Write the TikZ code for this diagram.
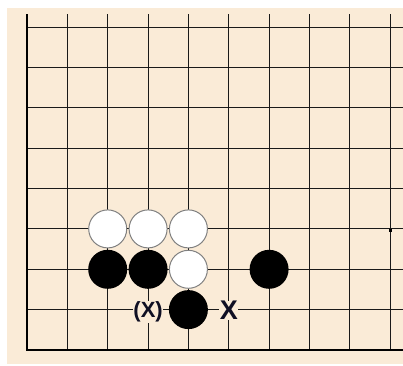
\documentclass[tikz,border=0pt]{standalone}
\usepackage{fontspec}
\setmainfont{Liberation Sans}
\definecolor{board}{RGB}{250,235,215}
\definecolor{gridc}{RGB}{25,25,25}
\definecolor{labc}{RGB}{15,15,35}
\begin{document}
\begin{tikzpicture}[x=1pt,y=-1pt,
  bstone/.style={circle,fill=black,minimum size=39pt,inner sep=0pt},
  wstone/.style={circle,fill=white,draw=gray,line width=1pt,minimum size=38pt,inner sep=0pt},
  gridline/.style={gridc,line width=0.9pt},
  edgeline/.style={black,line width=2.2pt},
  lab/.style={fill=board,inner sep=0.6pt,text=labc,font=\bfseries}]
\useasboundingbox (0,0) rectangle (403,365);
\fill[white] (0,0) rectangle (403,365);
\fill[board] (7,8) rectangle (403,364);
% grid
\foreach \i in {1,...,9} \draw[gridline] ({27+40.35*\i},14) -- ({27+40.35*\i},350);
\foreach \j in {0,...,7} \draw[gridline] (27,{27+40.375*\j}) -- (403,{27+40.375*\j});
\draw[edgeline] (27,14) -- (27,350) -- (403,350);
\fill[black] (388.6,228.6) rectangle (391.6,231.6);
% stones
\node[wstone] (w1) at (107.7,228.9) {};
\node[wstone] (w2) at (148.1,228.9) {};
\node[wstone] (w3) at (188.4,228.9) {};
\node[bstone] (b1) at (107.7,269.3) {};
\node[bstone] (b2) at (148.1,269.3) {};
\node[wstone] (w4) at (188.4,269.3) {};
\node[bstone] (b3) at (269.1,269.3) {};
\node[bstone] (b4) at (188.4,309.6) {};
% labels
\node[lab,font=\bfseries\fontsize{22}{22}\selectfont] (l1) at (148.1,312) {(X)};
\node[lab,font=\bfseries\fontsize{27}{27}\selectfont] (l2) at (228.8,310.5) {X};
\end{tikzpicture}
\end{document}
